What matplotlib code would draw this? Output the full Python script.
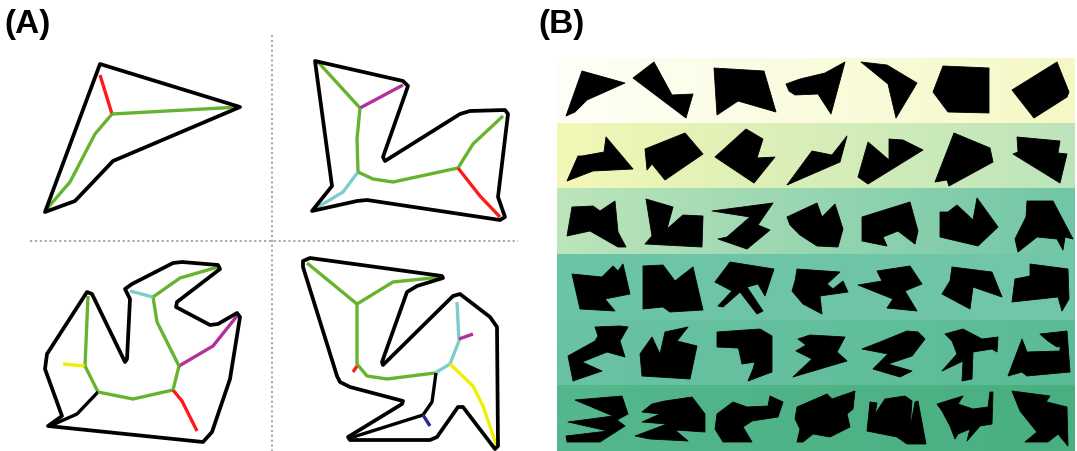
import numpy as np
import matplotlib
matplotlib.use("Agg")
from matplotlib import pyplot as plt
from matplotlib.patches import Polygon
from matplotlib.colors import to_rgb

# ---- panel A: polygon outlines (pixel coords) ----
outline_q1 = [(100, 65), (240, 108), (113, 162), (75, 202), (45, 213)]
outline_q2 = [(315, 62), (403, 82), (408, 87), (383, 158), (385, 162), (460, 115),
              (470, 112), (505, 111), (508, 115), (498, 198), (505, 218), (500, 221),
              (367, 201), (357, 202), (312, 212), (332, 187)]
outline_q3 = [(48, 427), (62, 417), (45, 370), (47, 355), (87, 293), (92, 295),
              (125, 363), (127, 360), (130, 300), (125, 290), (132, 285), (173, 264),
              (182, 263), (218, 266), (220, 270), (177, 303), (176, 308), (210, 326),
              (218, 325), (237, 314), (240, 318), (230, 380), (212, 433), (203, 443)]
outline_q4 = [(303, 262), (310, 259), (442, 277), (443, 279), (417, 287), (407, 293),
              (382, 363), (383, 366), (453, 297), (460, 295), (490, 318), (497, 328),
              (498, 447), (495, 450), (463, 408), (458, 408), (437, 438), (430, 441),
              (350, 441), (348, 438), (402, 405), (403, 402), (350, 388), (340, 383),
              (337, 377), (303, 268)]

# skeleton branches: (colour, points)
branches_q1 = [("red", [(100, 76), (112, 115)]),
               ("green", [(112, 115), (240, 108)]),
               ("green", [(112, 115), (95, 135), (70, 183), (45, 212)])]
branches_q2 = [("green", [(318, 63), (360, 109)]),
               ("magenta", [(360, 109), (403, 86)]),
               ("green", [(360, 109), (357, 140), (358, 173)]),
               ("cyan", [(358, 173), (343, 193), (313, 211)]),
               ("green", [(358, 173), (373, 180), (393, 183), (458, 169)]),
               ("green", [(458, 169), (473, 145), (503, 117)]),
               ("red", [(458, 169), (480, 197), (500, 218)])]
branches_q3 = [("green", [(88, 297), (85, 367)]),
               ("yellow", [(63, 365), (85, 367)]),
               ("green", [(85, 367), (98, 393)]),
               ("black", [(98, 393), (77, 415), (50, 427)]),
               ("green", [(98, 393), (133, 400), (173, 391)]),
               ("red", [(173, 391), (182, 402), (197, 432)]),
               ("green", [(173, 391), (179, 367)]),
               ("magenta", [(179, 367), (213, 347), (237, 317)]),
               ("green", [(179, 367), (157, 323), (153, 298)]),
               ("cyan", [(153, 298), (130, 292)]),
               ("green", [(153, 298), (180, 279), (218, 268)])]
branches_q4 = [("green", [(307, 264), (357, 305)]),
               ("green", [(357, 305), (393, 283), (442, 278)]),
               ("green", [(357, 305), (357, 365), (367, 377), (387, 380), (435, 374)]),
               ("red", [(357, 367), (353, 373)]),
               ("cyan", [(435, 374), (450, 365), (459, 342), (457, 303)]),
               ("magenta", [(459, 340), (473, 335)]),
               ("yellow", [(450, 365), (473, 387), (483, 407), (497, 448)]),
               ("black", [(436, 374), (432, 403), (423, 416), (350, 439)]),
               ("navy", [(423, 416), (430, 427)])]

skel_colors = {"green": "#66b32e", "red": "#ff1a1a", "magenta": "#b3309b",
               "cyan": "#7fcccc", "yellow": "#eef000", "navy": "#2b2b8c",
               "black": "black"}

# ---- panel B: shape gallery ----
row_tops = [59, 124.5, 190, 256, 321.5, 386.5, 452]
band_left = ["#fffff8", "#f3f8b6", "#bde5bb", "#6cc4a6", "#6ac3a3", "#55b78d"]
band_right = ["#f5f8c4", "#bce4bb", "#70c6a6", "#71c7a7", "#5bbb96", "#49af80"]

row1_shapes = [
    [(582, 72), (625, 84), (587, 101), (580, 108), (575, 113), (566, 117)],
    [(633, 79), (654, 63), (672, 96), (693, 95), (686, 119)],
    [(714, 69), (764, 72), (776, 113), (738, 102), (717, 116)],
    [(786, 85), (800, 80), (825, 74), (845, 63), (831, 115), (818, 95), (795, 96), (789, 92)],
    [(861, 63), (887, 66), (917, 84), (896, 119), (888, 85)],
    [(943, 67), (989, 69), (989, 114), (948, 113), (933, 93)],
    [(1012, 91), (1057, 63), (1069, 93), (1067, 98), (1034, 119)],
]
row2_shapes = [
    [(567, 182), (578, 157), (582, 157), (604, 153), (606, 138), (633, 170), (593, 172)],
    [(645, 150), (685, 134), (703, 155), (665, 181), (652, 165), (647, 171)],
    [(715, 158), (746, 130), (763, 140), (757, 159), (775, 158), (754, 184)],
    [(787, 186), (812, 152), (832, 156), (847, 137), (840, 163)],
    [(868, 143), (889, 161), (889, 140), (903, 141), (923, 151), (868, 185), (858, 178)],
    [(954, 134), (990, 149), (993, 163), (949, 187), (947, 181), (935, 183)],
    [(1017, 138), (1060, 142), (1058, 154), (1067, 155), (1060, 184), (1013, 155), (1018, 153)],
]
row3_shapes = [
    [(572, 208), (593, 207), (600, 212), (615, 202), (618, 233), (626, 248), (618, 248), (590, 232), (567, 237)],
    [(646, 200), (673, 208), (667, 230), (683, 216), (703, 217), (702, 248), (645, 245), (652, 237)],
    [(712, 212), (773, 204), (758, 226), (770, 231), (747, 250), (718, 240), (727, 238), (750, 218)],
    [(787, 218), (817, 204), (822, 218), (835, 205), (843, 230), (838, 248), (817, 247), (800, 236), (790, 226)],
    [(862, 218), (910, 203), (918, 232), (915, 245), (898, 232), (883, 238), (887, 247), (862, 242)],
    [(940, 213), (948, 213), (957, 206), (973, 221), (977, 199), (998, 228), (978, 247), (940, 238)],
    [(1027, 202), (1053, 202), (1073, 240), (1065, 238), (1063, 251), (1057, 240), (1037, 238), (1018, 253), (1015, 240), (1026, 218)],
]
row4_shapes = [
    [(572, 275), (602, 278), (613, 267), (618, 272), (623, 265), (630, 295), (605, 300), (615, 312), (580, 310)],
    [(643, 267), (663, 266), (675, 282), (693, 268), (703, 311), (670, 313), (663, 308), (643, 310)],
    [(715, 283), (730, 263), (774, 270), (765, 297), (758, 285), (747, 288), (763, 312), (757, 315), (740, 293), (723, 308), (718, 307), (732, 292)],
    [(797, 270), (840, 273), (827, 285), (833, 290), (843, 282), (848, 293), (820, 297), (822, 315), (803, 305), (792, 292), (795, 282)],
    [(877, 272), (910, 267), (922, 285), (905, 292), (917, 312), (887, 309), (893, 300), (858, 286), (882, 282)],
    [(952, 268), (992, 273), (1002, 298), (973, 288), (970, 310), (942, 295), (950, 282)],
    [(1030, 265), (1068, 270), (1069, 300), (1062, 312), (1058, 298), (1012, 303), (1015, 280), (1030, 277)],
]
row5_shapes = [
    [(595, 328), (620, 327), (628, 328), (620, 342), (625, 358), (607, 353), (582, 363), (602, 372), (573, 382), (568, 357), (595, 342), (598, 337)],
    [(652, 338), (660, 355), (665, 333), (688, 328), (677, 342), (697, 347), (690, 380), (642, 377), (640, 355)],
    [(717, 333), (760, 330), (772, 337), (772, 373), (748, 382), (753, 370), (755, 363), (742, 365), (738, 347), (758, 350), (717, 348)],
    [(798, 340), (810, 336), (845, 338), (837, 353), (847, 362), (803, 375), (793, 378), (812, 360), (796, 352), (806, 346)],
    [(862, 350), (880, 343), (907, 332), (918, 333), (925, 340), (912, 357), (888, 365), (912, 372), (900, 378), (873, 370), (888, 355)],
    [(945, 335), (963, 330), (982, 340), (998, 338), (997, 353), (992, 350), (973, 353), (972, 380), (962, 382), (963, 362), (942, 372), (957, 355), (952, 342)],
    [(1040, 335), (1067, 332), (1070, 373), (1027, 377), (1022, 373), (1008, 377), (1022, 340), (1027, 353), (1060, 352), (1060, 347), (1057, 348), (1048, 342)],
]
row6_shapes = [
    [(575, 401), (622, 397), (628, 415), (617, 421), (625, 427), (600, 443), (567, 443), (566, 437), (608, 432), (568, 423), (613, 417)],
    [(652, 405), (665, 402), (692, 398), (705, 415), (705, 433), (675, 431), (688, 442), (650, 440), (635, 437), (667, 425), (642, 423), (660, 415), (642, 413)],
    [(717, 415), (733, 403), (747, 408), (768, 407), (770, 397), (783, 403), (778, 418), (752, 422), (743, 428), (752, 443), (723, 443), (715, 430)],
    [(797, 408), (827, 395), (832, 400), (855, 392), (853, 410), (847, 415), (850, 428), (830, 438), (813, 435), (803, 443), (797, 443), (800, 430), (795, 420)],
    [(870, 403), (877, 404), (875, 415), (885, 400), (905, 397), (912, 402), (910, 430), (915, 403), (918, 402), (926, 445), (907, 445), (897, 438), (867, 432)],
    [(937, 405), (963, 397), (958, 405), (973, 410), (988, 408), (990, 393), (993, 393), (992, 425), (980, 427), (967, 442), (970, 430), (958, 435), (955, 440), (950, 427), (942, 412)],
    [(1012, 392), (1050, 397), (1033, 422), (1047, 403), (1067, 408), (1068, 447), (1058, 435), (1048, 443), (1025, 443), (1037, 433), (1020, 412)],
]
gallery = [row1_shapes, row2_shapes, row3_shapes, row4_shapes, row5_shapes, row6_shapes]

fig = plt.figure(figsize=(10.77, 4.52), dpi=100)
ax = fig.add_axes([0, 0, 1, 1])

# background bands with horizontal gradient
for i in range(6):
    c0 = np.array(to_rgb(band_left[i]))
    c1 = np.array(to_rgb(band_right[i]))
    t = np.linspace(0, 1, 200)[:, None]
    grad = (c0 + (c1 - c0) * t)[None, :, :]
    ax.imshow(grad, extent=(557, 1075, row_tops[i + 1], row_tops[i]),
              aspect="auto", interpolation="bilinear", zorder=0)

for row in gallery:
    for pts in row:
        ax.add_patch(Polygon(pts, closed=True, facecolor="black", edgecolor="black",
                             lw=0.6, joinstyle="round", zorder=2))

# panel A
for outline, branches in [(outline_q1, branches_q1), (outline_q2, branches_q2),
                          (outline_q3, branches_q3), (outline_q4, branches_q4)]:
    for col, pts in branches:
        xs, ys = zip(*pts)
        ax.plot(xs, ys, color=skel_colors[col], lw=2.4, solid_capstyle="butt",
                solid_joinstyle="round", zorder=2)
    ax.add_patch(Polygon(outline, closed=True, fill=False, edgecolor="black",
                         lw=2.7, joinstyle="round", zorder=3))

ax.plot([272, 272], [36, 452], color="#a0a0a0", lw=1.3, ls=(0, (1.2, 1.5)), zorder=1)
ax.plot([30, 518], [242, 242], color="#a0a0a0", lw=1.3, ls=(0, (1.2, 1.5)), zorder=1)

ax.text(4, 24, "(A)", fontsize=24, fontweight="bold", family="Liberation Sans",
        va="center", ha="left")
ax.text(538, 24, "(B)", fontsize=24, fontweight="bold", family="Liberation Sans",
        va="center", ha="left")

ax.set_xlim(0, 1077)
ax.set_ylim(452, 0)
ax.axis("off")
fig.savefig("out.png", dpi=100)
